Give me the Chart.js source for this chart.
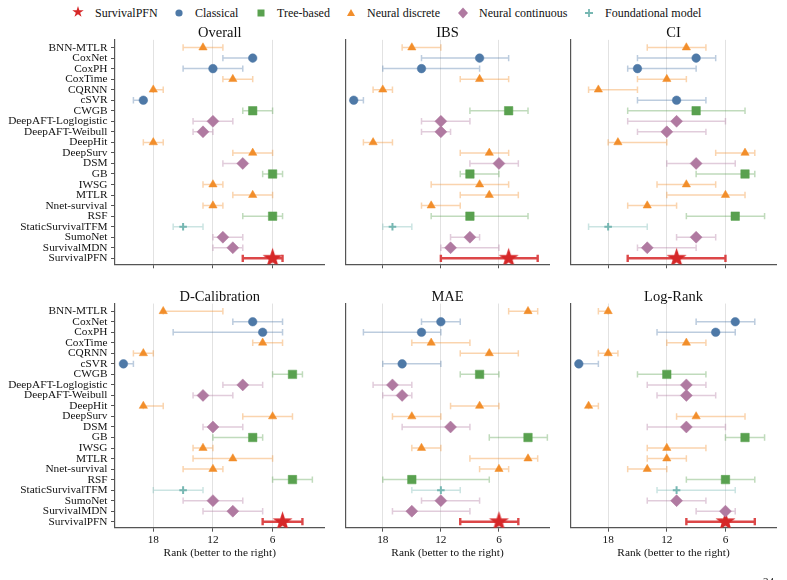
<!DOCTYPE html>
<html><head><meta charset="utf-8">
<script src="https://cdn.jsdelivr.net/npm/chart.js@4.4.1/dist/chart.umd.min.js"></script>
<style>
html,body{margin:0;padding:0;background:#fff;}
body{width:787px;height:580px;position:relative;overflow:hidden;font-family:"Liberation Serif","Times New Roman",serif;color:#111;}
canvas.pane{position:absolute;}
#legend{position:absolute;top:4px;left:0;width:787px;height:18px;font-size:12px;}
.lt{position:absolute;top:0;line-height:18px;white-space:nowrap;}
.lm{position:absolute;top:0;}
#pg{position:absolute;left:763px;top:575px;font-size:11px;}
</style></head><body>
<div id="legend"></div>
<canvas class="pane" id="c0" width="335" height="258" style="left:0;top:22px"></canvas>
<canvas class="pane" id="c1" width="225" height="258" style="left:335px;top:22px"></canvas>
<canvas class="pane" id="c2" width="227" height="258" style="left:560px;top:22px"></canvas>
<canvas class="pane" id="c3" width="335" height="300" style="left:0;top:280px"></canvas>
<canvas class="pane" id="c4" width="225" height="300" style="left:335px;top:280px"></canvas>
<canvas class="pane" id="c5" width="227" height="300" style="left:560px;top:280px"></canvas>
<div id="pg">24</div>
<script>
// ---------------- data ----------------
const methods = ['BNN-MTLR','CoxNet','CoxPH','CoxTime','CQRNN','cSVR','CWGB','DeepAFT-Loglogistic','DeepAFT-Weibull','DeepHit','DeepSurv','DSM','GB','IWSG','MTLR','Nnet-survival','RSF','StaticSurvivalTFM','SumoNet','SurvivalMDN','SurvivalPFN'];
const family = ['Neural discrete','Classical','Classical','Neural discrete','Neural discrete','Classical','Tree-based','Neural continuous','Neural continuous','Neural discrete','Neural discrete','Neural continuous','Tree-based','Neural discrete','Neural discrete','Neural discrete','Tree-based','Foundational model','Neural continuous','Neural continuous','SurvivalPFN'];
const legendGroups = ['SurvivalPFN','Classical','Tree-based','Neural discrete','Neural continuous','Foundational model'];
const metricNames = ['Overall','IBS','CI','D-Calibration','MAE','Log-Rank'];
const xTicks = [18, 12, 6];
const xAxisTitle = 'Rank (better to the right)';

const overallRank  = [13,8,12,10,18,19,8,12,13,18,8,9,6,12,8,12,6,15,11,10,6];
const overallWorst = [15,11,15,11,18,20,9,14,14,19,10,11,7,13,10,13,9,16,12,12,9];
const overallBest  = [11,8,9,8,17,19,6,10,12,17,6,9,5,11,6,11,5,13,9,9,5];

const ibsRank  = [15,8,14,8,18,21,5,12,12,19,7,6,9,8,7,13,9,17,9,11,5];
const ibsWorst = [16,14,18,10,19,21,9,14,14,20,10,9,10,13,10,14,13,18,11,12,12];
const ibsBest  = [12,5,8,5,17,20,3,9,11,17,5,4,6,5,4,10,3,15,8,6,2];

const ciRank  = [10,9,15,12,19,11,9,11,12,17,4,9,4,10,6,14,5,18,9,14,11];
const ciWorst = [14,15,16,15,20,15,16,16,15,18,7,12,9,13,12,16,10,20,11,15,16];
const ciBest  = [8,7,9,10,15,8,4,6,8,12,3,5,3,7,4,11,2,14,7,9,6];

const dcalRank  = [17,8,7,7,19,21,4,9,13,19,6,12,8,13,10,12,4,15,12,10,5];
const dcalWorst = [17,10,16,8,20,21,6,11,14,19,9,13,12,14,14,15,6,18,15,13,7];
const dcalBest  = [11,5,5,5,18,20,3,7,10,17,4,9,7,12,6,11,2,13,9,7,3];

const maeRank  = [3,12,14,13,7,16,8,17,16,8,15,11,3,14,3,6,15,12,12,15,6];
const maeWorst = [5,14,20,15,10,18,10,19,18,11,17,16,7,15,9,8,18,15,14,17,10];
const maeBest  = [2,10,12,9,4,12,6,15,15,6,12,9,1,12,2,5,7,10,8,9,4];

const logrankRank  = [18,5,7,10,18,21,12,10,10,20,9,10,4,12,12,14,6,11,11,6,6];
const logrankWorst = [19,9,13,12,19,21,15,14,13,20,11,14,6,14,14,16,10,13,14,9,10];
const logrankBest  = [18,3,5,8,17,19,8,8,7,19,4,6,2,8,10,12,3,5,8,5,3];

// ---------------- styling ----------------
const F = '"Liberation Serif","Times New Roman",serif';
Chart.defaults.font.family = F;
const colors = {
  'SurvivalPFN':'#d62728','Classical':'#4e79a7','Tree-based':'#59a14f',
  'Neural discrete':'#f28e2b','Neural continuous':'#b07aa1','Foundational model':'#76b7b2'
};
function rgba(hex,a){const n=parseInt(hex.slice(1),16);return `rgba(${n>>16},${(n>>8)&255},${n&255},${a})`;}
function starCanvas(R, color){
  const s=Math.ceil(R*2+2), c=document.createElement('canvas'); c.width=s;c.height=s;
  const g=c.getContext('2d'); const cx=s/2, cy=s/2, r=R*0.382;
  g.beginPath();
  for(let k=0;k<10;k++){const a=-Math.PI/2+k*Math.PI/5, rr=k%2?r:R; g.lineTo(cx+rr*Math.cos(a), cy+rr*Math.sin(a));}
  g.closePath(); g.fillStyle=color; g.fill(); return c;
}
const markerStyle = {
  'SurvivalPFN':{pointStyle:starCanvas(10.5,'#d62728'), radius:10},
  'Classical':{pointStyle:'circle', radius:4.3},
  'Tree-based':{pointStyle:'rect', radius:6},
  'Neural discrete':{pointStyle:'triangle', radius:4.8},
  'Neural continuous':{pointStyle:'rectRot', radius:6},
  'Foundational model':{pointStyle:'cross', radius:3.8, bw:2}
};

// ---------------- legend ----------------
const legendPos = [[78,95],[179,195],[261,277],[351,367],[463,479],[589,605]];
const svgs = {
  'SurvivalPFN': c=>{let p=[];for(let k=0;k<10;k++){const a=-Math.PI/2+k*Math.PI/5, rr=k%2?2.3:6;p.push((7+rr*Math.cos(a)).toFixed(2)+','+(8+rr*Math.sin(a)).toFixed(2));}return `<polygon points="${p.join(' ')}" fill="${c}"/>`;},
  'Classical': c=>`<circle cx="7" cy="9" r="3.6" fill="${c}"/>`,
  'Tree-based': c=>`<rect x="3.5" y="5.5" width="7" height="7" fill="${c}"/>`,
  'Neural discrete': c=>`<polygon points="7,5 11,12 3,12" fill="${c}"/>`,
  'Neural continuous': c=>`<polygon points="7,3.5 12,9 7,14.5 2,9" fill="${c}"/>`,
  'Foundational model': c=>`<path d="M7,5 V13 M3,9 H11" stroke="${c}" stroke-width="1.8"/>`
};
const leg = document.getElementById('legend');
legendGroups.forEach((g,i)=>{
  const [mx,tx]=legendPos[i];
  const m=document.createElement('div'); m.className='lm'; m.style.left=(mx-7)+'px';
  m.innerHTML=`<svg width="14" height="18">${svgs[g](colors[g])}</svg>`;
  leg.appendChild(m);
  const t=document.createElement('div'); t.className='lt'; t.style.left=tx+'px'; t.textContent=g;
  leg.appendChild(t);
});

// ---------------- charts ----------------
const metricData = [
  [overallRank, overallWorst, overallBest],
  [ibsRank, ibsWorst, ibsBest],
  [ciRank, ciWorst, ciBest],
  [dcalRank, dcalWorst, dcalBest],
  [maeRank, maeWorst, maeBest],
  [logrankRank, logrankWorst, logrankBest]
];
const drawOrder = ['Classical','Tree-based','Neural discrete','Neural continuous','Foundational model','SurvivalPFN'];

function makeChart(idx){
  const col = idx%3, row = Math.floor(idx/3);
  const [rank, worst, best] = metricData[idx];
  const datasets = drawOrder.map(g=>{
    const st = markerStyle[g];
    const pts = [];
    methods.forEach((m,i)=>{ if(family[i]===g) pts.push({x:rank[i], y:i}); });
    return {label:g, data:pts, pointStyle:st.pointStyle, pointRadius:st.radius, pointHoverRadius:st.radius,
      backgroundColor:colors[g], borderColor:colors[g], borderWidth: st.bw||0.5, pointBorderWidth: st.bw||0.5};
  });
  const errorBars = {
    id:'errorBars'+idx,
    beforeDatasetsDraw(chart){
      const {ctx, scales:{x,y}} = chart;
      ctx.save();
      methods.forEach((m,i)=>{
        const g = family[i], pfn = g==='SurvivalPFN';
        const x1 = x.getPixelForValue(worst[i]), x2 = x.getPixelForValue(best[i]), yy = y.getPixelForValue(i);
        const cap = pfn?3.6:3.2;
        ctx.strokeStyle = pfn ? rgba(colors[g],0.85) : rgba(colors[g],0.38);
        ctx.lineWidth = pfn?2.4:1.5;
        ctx.beginPath();
        ctx.moveTo(x1,yy); ctx.lineTo(x2,yy);
        ctx.moveTo(x1,yy-cap); ctx.lineTo(x1,yy+cap);
        ctx.moveTo(x2,yy-cap); ctx.lineTo(x2,yy+cap);
        ctx.stroke();
      });
      ctx.restore();
    }
  };
  const padRight = [5,5,7][col];
  return new Chart(document.getElementById('c'+idx), {
    type:'scatter',
    data:{datasets},
    plugins:[errorBars],
    options:{
      responsive:false, animation:false, events:[],
      layout:{padding:{left:0,right:padRight,top: row===0?4.8:10.5,bottom:0}},
      plugins:{
        legend:{display:false}, tooltip:{enabled:false},
        title:{display:true, text:metricNames[idx], fullSize:false, color:'#111',
          font:{family:F,size:14.5,weight:'normal',lineHeight:0.9}, padding:0}
      },
      scales:{
        x:{type:'linear', reverse:true, min:0.78, max:21.85,
          afterBuildTicks:a=>{a.ticks = xTicks.map(v=>({value:v}));},
          afterFit:a=>{a.height = row===0 ? 15.7 : 52.3;},
          grid:{color:'#e2e2e2', lineWidth:1, tickColor:'#555', tickLength:4, drawTicks:true},
          border:{display:true, color:'#555', width:1.2},
          ticks:{display: row===1, autoSkip:false, maxRotation:0, padding:2, color:'#111', font:{family:F,size:11.3}},
          title:{display: row===1, text:xAxisTitle, color:'#111', font:{family:F,size:11.3}, padding:{top:0,bottom:20}}
        },
        y:{type:'linear', reverse:true, min:-0.73, max:20.57,
          afterBuildTicks:a=>{a.ticks = methods.map((m,i)=>({value:i}));},
          afterFit:a=>{a.width = col===0 ? 115 : 5;},
          grid:{display:true, drawOnChartArea:false, drawTicks: col===0, tickLength:4, tickColor:'#555'},
          border:{display:true, color:'#555', width:1.2},
          ticks:{display: col===0, autoSkip:false, padding:3.5, color:'#111', font:{family:F,size:11.3},
            callback:(v)=>methods[v]}
        }
      }
    }
  });
}
for(let i=0;i<6;i++) makeChart(i);
</script>
</body></html>
